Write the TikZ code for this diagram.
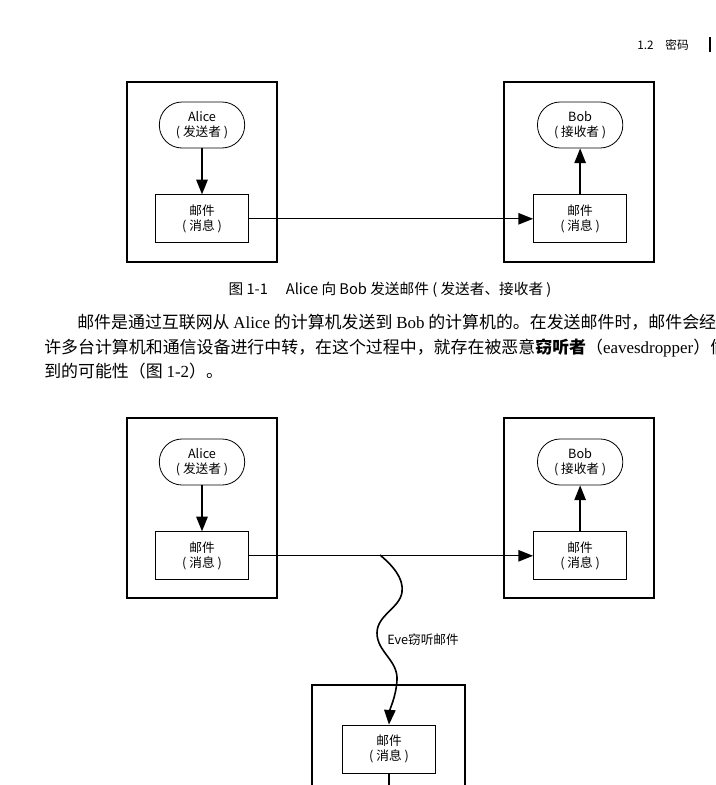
\documentclass[tikz,border=0pt]{standalone}
\usepackage{fontspec}
\setmainfont{Liberation Serif}
\newfontfamily\cjk{Noto Sans CJK SC}
\newfontfamily\latin{Liberation Serif}
\usetikzlibrary{arrows.meta,positioning}

\begin{document}
\begin{tikzpicture}[
			x=0.75pt, y=-0.75pt,
			frame/.style={rectangle, draw, line width=1.4pt, minimum width=112pt, minimum height=135pt},
			person/.style={rectangle, draw, rounded corners=17pt, line width=0.6pt, minimum width=64pt, minimum height=34.5pt, text centered, align=center, font=\cjk\fontsize{9.5}{11.5}\selectfont},
			mail/.style={rectangle, draw, line width=0.6pt, fill=white, minimum width=70pt, minimum height=36pt, text centered, align=center, font=\cjk\fontsize{9.5}{11.5}\selectfont},
			arrow/.style={-{Triangle[length=11pt,width=8.5pt]}, line width=1.2pt},
			line/.style={anchor=west, inner sep=0pt, font=\cjk\fontsize{12.7}{14}\selectfont},
			node distance=34.5pt
		]
		\useasboundingbox (0,0) rectangle (715,785);
		% Header
		\node[anchor=east, inner sep=0pt, font=\cjk\fontsize{8.8}{10}\selectfont] (header) at (689,45) {1.2\quad 密码};
		\draw[line width=0.8pt] (710,37) -- (710,52);
		% Figure 1-1
		\node[frame] (sbox1) at (202,172) {};
		\node[frame] (rbox1) at (579,172) {};
		\node[person] (alice1) at (202,125) {Alice\\( 发送者 )};
		\node[mail, below=of alice1] (amail1) {邮件\\( 消息 )};
		\node[mail, right=213pt of amail1] (bmail1) {邮件\\( 消息 )};
		\node[person, above=of bmail1] (bob1) {Bob\\( 接收者 )};
		\draw[arrow] (alice1) -- (amail1);
		\draw[arrow] (bmail1) -- (bob1);
		\draw[arrow, line width=1pt] (amail1) -- (bmail1);
		\node[inner sep=0pt, font=\cjk\fontsize{11}{12}\selectfont] (cap1) at (390,290) {图 1-1\quad\ Alice 向 Bob 发送邮件 ( 发送者、接收者 )};
		% Text
		\node[line] (line1) at (77,322.5) {邮件是通过互联网从 {\latin Alice} 的计算机发送到 {\latin Bob} 的计算机的。在发送邮件时，邮件会经};
		\node[line] (line2) at (44,347.5) {许多台计算机和通信设备进行中转，在这个过程中，就存在被恶意{\bfseries 窃听者}（{\latin eavesdropper}）偷};
		\node[line] (line3) at (44,371.5) {到的可能性（图 {\latin 1-2}）。};
		% Figure 1-2
		\node[frame] (sbox2) at (202,508) {};
		\node[frame] (rbox2) at (579,508) {};
		\node[frame, minimum width=115pt] (ebox) at (388.5,775) {};
		\node[person] (alice2) at (202,462) {Alice\\( 发送者 )};
		\node[mail, below=of alice2] (amail2) {邮件\\( 消息 )};
		\node[mail, right=213pt of amail2] (bmail2) {邮件\\( 消息 )};
		\node[person, above=of bmail2] (bob2) {Bob\\( 接收者 )};
		\node[mail] (email) at (389,749) {邮件\\( 消息 )};
		\coordinate (tap) at (380,555);
		\coordinate (edown) at (389,830);
		\draw[arrow] (alice2) -- (amail2);
		\draw[arrow] (bmail2) -- (bob2);
		\draw[arrow, line width=1pt] (amail2) -- (bmail2);
		\draw[arrow] (tap) .. controls (392,565) and (404,578) .. (402,592)
			.. controls (400,608) and (377,615) .. (377,633)
			.. controls (377,652) and (398,660) .. (397,680)
			.. controls (396,697) and (390,708) .. (email.north);
		\draw[line width=1.2pt] (email) -- (edown);
		\node[anchor=west, inner sep=0pt, font=\cjk\fontsize{9.5}{10}\selectfont] (evelabel) at (387,640) {Eve窃听邮件};
	\end{tikzpicture}
\end{document}
